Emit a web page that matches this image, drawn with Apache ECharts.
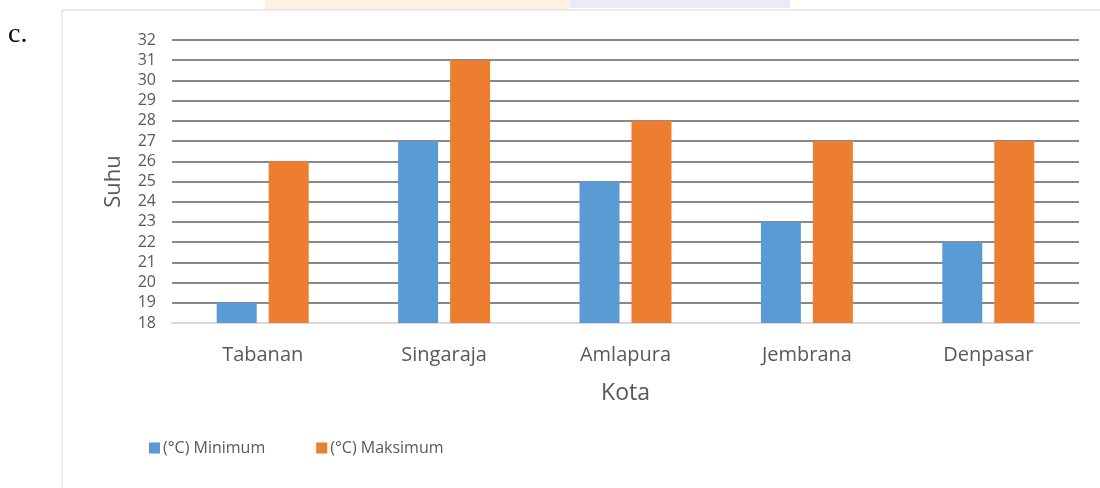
<!DOCTYPE html>
<html>
<head>
<meta charset="utf-8">
<script src="https://cdn.jsdelivr.net/npm/echarts@6/dist/echarts.min.js"></script>
<style>
  html, body { margin: 0; padding: 0; background: #fff; }
  #chart { width: 1100px; height: 488px; }
</style>
</head>
<body>
<div id="chart"></div>
<script>
// data
var kota = ['Tabanan', 'Singaraja', 'Amlapura', 'Jembrana', 'Denpasar'];
var suhuMin = [19, 27, 25, 23, 22];
var suhuMaks = [26, 31, 28, 27, 27];
var namaSeri = ['(°C) Minimum', '(°C) Maksimum'];

var font = '"Open Sans", "Noto Sans", sans-serif';
var myChart = echarts.init(document.getElementById('chart'));

var option = {
  backgroundColor: '#fff',
  textStyle: { fontFamily: font },
  color: ['#5B9BD5', '#ED7D31'],
  animation: false,
  graphic: [
    // faint watermark at top
    { type: 'rect', shape: { x: 265, y: 0, width: 305, height: 10 }, style: { fill: '#f5d49c', opacity: 0.3 }, z: 0 },
    { type: 'rect', shape: { x: 570, y: 0, width: 220, height: 8 }, style: { fill: '#b9bdec', opacity: 0.3 }, z: 0 },
    // chart frame
    { type: 'rect', shape: { x: 62, y: 10, width: 1100, height: 500 }, style: { fill: 'none', stroke: '#d9d9d9', lineWidth: 1 }, z: 0 },
    { type: 'text', left: 8, top: 21, style: { text: 'c.', font: '28px "Liberation Serif", "DejaVu Serif", serif', fill: '#000' } }
  ],
  legend: {
    left: 144,
    top: 435,
    itemWidth: 11,
    itemHeight: 11,
    itemGap: 51,
    icon: 'rect',
    textStyle: { fontSize: 16, color: '#595959', padding: [0, 0, 0, -2] },
    data: namaSeri
  },
  grid: {
    left: 172,
    right: 21,
    top: 40,
    bottom: 165
  },
  xAxis: {
    type: 'category',
    data: kota,
    name: 'Kota',
    nameLocation: 'middle',
    nameGap: 59,
    nameTextStyle: { fontSize: 23, color: '#595959' },
    axisLine: { lineStyle: { color: '#d9d9d9', width: 2 } },
    axisTick: { show: false },
    axisLabel: { fontSize: 20, color: '#595959', margin: 22 }
  },
  yAxis: {
    type: 'value',
    min: 18,
    max: 32,
    interval: 1,
    name: 'Suhu',
    nameLocation: 'middle',
    nameGap: 47,
    nameTextStyle: { fontSize: 22, color: '#595959' },
    axisLine: { show: false },
    axisTick: { show: false },
    axisLabel: { fontSize: 16, color: '#595959', margin: 16 },
    splitLine: { lineStyle: { color: '#898989', width: 2 } }
  },
  series: [
    {
      name: namaSeri[0],
      type: 'bar',
      data: suhuMin,
      barWidth: 40,
      barGap: '30%'
    },
    {
      name: namaSeri[1],
      type: 'bar',
      data: suhuMaks,
      barWidth: 40
    }
  ]
};

myChart.setOption(option);
</script>
</body>
</html>
